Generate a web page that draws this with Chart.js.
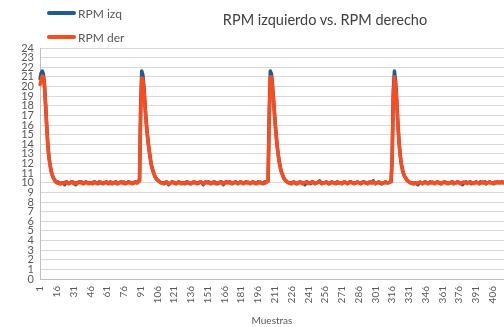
<!DOCTYPE html>
<html>
<head>
<meta charset="utf-8">
<script src="https://cdn.jsdelivr.net/npm/chart.js@4/dist/chart.umd.min.js"></script>
<style>
  body { margin: 0; background: #fff; }
  #wrap { position: relative; width: 504px; height: 327px; font-family: Lato, sans-serif; }
  #titulo { position: absolute; left: 185px; width: 280px; top: 11px; text-align: center; font-size: 14.5px; color: #404040; }
  .ley { position: absolute; left: 47px; height: 16px; font-size: 12px; color: #595959; display: flex; align-items: center; }
  .linea { display: inline-block; width: 29px; height: 4px; margin-right: 2px; border-radius: 2px; }
</style>
</head>
<body>
<div id="wrap">
  <canvas id="myChart" width="504" height="327"></canvas>
  <div id="titulo">RPM izquierdo vs. RPM derecho</div>
  <div class="ley" style="top:5px"><span class="linea" style="background:#1F5A96"></span>RPM izq</div>
  <div class="ley" style="top:29px"><span class="linea" style="background:#FF4A1A"></span>RPM der</div>
</div>
<script>
const rpmIzq = [
  20.8,21.4,21.6,21.3,20.3,18.2,16.0,14.0,12.7,11.9,11.2,10.8,10.5,10.3,10.1,10.0,
  10.1,10.0,9.9,9.9,10.0,10.0,9.8,10.0,10.1,10.0,
  9.9,10.0,10.1,10.1,10.0,9.9,9.8,10.0,10.0,10.1,
  10.0,10.1,10.0,9.9,10.0,10.1,10.0,10.0,9.9,10.0,
  10.0,9.9,10.0,10.1,10.0,10.0,9.9,10.1,10.0,10.0,
  9.9,10.0,10.0,10.1,10.0,9.9,10.0,10.1,9.9,10.0,
  10.0,10.0,10.1,9.9,10.0,10.0,10.0,10.1,10.0,10.0,
  9.9,10.0,10.0,10.1,10.0,10.0,10.0,9.9,10.0,10.1,
  10.0,10.0,10.2,
  10.2,17.8,21.6,21.2,19.9,18.0,16.4,15.1,14.0,13.1,12.3,11.7,11.3,10.9,10.6,10.4,10.3,10.2,10.1,10.0,
  10.0,10.0,9.9,10.0,10.1,10.0,9.8,9.9,10.0,10.1,
  10.0,10.0,9.9,9.9,10.0,10.1,10.0,10.0,9.9,10.0,
  10.0,9.9,10.1,10.0,10.0,9.9,9.9,10.0,10.0,10.1,
  10.0,10.0,9.9,10.0,10.0,10.1,10.0,9.8,10.0,10.1,
  10.0,10.0,10.1,10.0,9.9,10.0,10.0,10.1,10.0,9.9,
  9.9,10.0,10.0,10.1,10.0,9.8,10.0,10.0,10.1,10.0,
  10.0,10.1,10.0,9.9,10.0,10.0,10.1,10.0,9.9,10.0,
  10.1,10.0,10.0,9.9,10.0,10.1,10.0,10.0,10.0,9.9,
  10.0,10.1,10.0,10.0,9.9,10.0,10.1,10.0,10.0,10.0,
  9.9,10.0,10.1,10.0,10.1,
  10.2,17.2,21.6,21.3,20.1,18.5,16.8,15.3,14.0,13.0,12.2,11.6,11.1,10.8,10.5,10.3,10.2,10.1,10.0,
  10.0,10.0,9.9,10.0,10.1,10.0,9.9,9.9,10.0,10.0,
  10.1,10.0,9.9,10.0,9.8,10.0,10.1,10.0,10.0,9.9,
  10.0,10.1,10.0,9.9,10.0,10.0,10.1,10.2,10.0,9.9,
  10.0,10.0,10.0,10.1,10.0,9.9,9.9,10.0,10.1,10.0,
  10.0,10.0,9.9,10.1,10.0,10.0,10.0,9.9,10.0,10.1,
  10.0,10.0,9.9,10.0,10.1,10.1,10.0,10.0,9.9,10.0,
  10.0,10.1,10.0,10.0,9.9,10.0,10.1,10.1,10.0,10.0,
  9.9,10.0,10.1,10.0,10.0,10.2,10.0,9.9,10.0,10.0,
  10.1,10.0,9.9,9.9,10.0,10.0,10.1,10.0,10.0,10.0,
  10.1,
  10.1,12.8,19.6,21.6,20.6,18.8,16.4,14.5,13.1,12.1,11.5,11.0,10.7,10.5,10.3,10.2,10.1,10.0,
  10.0,10.0,9.9,9.9,10.0,9.9,9.8,10.0,10.0,10.0,
  9.9,10.0,10.1,10.0,10.0,9.9,10.0,10.1,10.0,10.0,
  10.0,9.9,10.0,10.1,10.0,10.0,9.9,9.9,10.0,10.0,
  10.1,10.0,10.0,9.9,10.0,10.0,10.0,10.1,9.9,10.0,
  10.0,10.0,10.1,10.0,9.9,10.0,9.8,10.0,10.0,10.1,
  10.0,10.0,10.0,10.1,9.9,10.0,10.0,10.0,10.1,10.0,
  10.0,9.9,10.1,10.0,10.0,10.0,10.1,9.9,10.0,10.0,
  10.1,10.0,10.0,10.0,9.9,10.0,10.0,10.1,10.0,10.0,
  10.0,10.1,10.0,10.0
];

const rpmDer = [
  20.2,20.6,21.1,21.0,20.0,18.0,15.8,13.8,12.6,11.8,11.2,10.8,10.5,10.3,10.1,10.0,
  10.0,9.9,9.9,10.0,10.0,9.9,10.0,10.1,10.0,9.9,
  10.0,10.0,10.1,10.0,9.9,10.0,10.0,9.9,10.0,10.1,
  10.1,10.0,9.9,10.0,10.0,10.1,10.0,9.9,10.0,10.0,
  9.9,10.0,10.1,10.0,10.0,9.9,10.0,10.0,10.1,10.0,
  10.0,9.9,10.0,10.1,10.1,10.0,9.9,10.0,10.0,9.9,
  10.0,10.1,10.0,10.0,9.9,10.0,10.1,10.0,10.0,10.1,
  10.0,9.9,10.0,10.0,10.1,10.0,9.9,10.0,10.0,10.1,
  10.0,10.0,10.1,
  10.2,17.0,20.9,20.8,19.6,17.8,16.2,14.9,13.9,13.0,12.2,11.6,11.2,10.9,10.6,10.4,10.3,10.2,10.1,10.0,
  10.0,9.9,10.0,10.0,10.1,10.0,9.9,9.9,10.0,10.0,
  10.1,10.0,10.0,9.9,10.0,10.1,10.0,9.9,10.0,10.0,
  9.9,10.0,10.0,10.1,10.0,10.0,9.9,10.0,10.1,10.0,
  10.0,9.9,10.0,10.0,10.1,10.1,10.0,9.9,10.0,10.0,
  10.0,10.1,10.0,9.9,10.0,10.0,10.1,10.0,9.9,10.0,
  10.0,10.0,10.1,10.0,9.9,9.9,10.0,10.1,10.0,10.0,
  10.1,10.0,9.9,10.0,10.0,10.1,10.0,10.0,9.9,10.0,
  10.0,10.1,10.0,9.9,10.0,10.0,10.0,10.1,10.0,9.9,
  10.0,10.0,10.1,10.0,10.0,9.9,10.0,10.0,10.1,10.0,
  10.0,9.9,10.0,10.0,10.1,
  10.2,16.5,21.0,21.0,19.8,18.3,16.6,15.1,13.9,12.9,12.1,11.5,11.1,10.8,10.5,10.3,10.2,10.1,10.0,
  10.0,9.9,10.0,10.0,10.1,10.0,10.0,9.9,10.0,10.1,
  10.0,10.0,9.9,10.0,10.0,10.1,10.0,9.9,10.0,10.0,
  10.1,10.0,10.0,9.9,10.0,10.0,10.1,10.1,10.0,9.9,
  10.0,10.0,10.0,10.1,10.0,9.9,10.0,10.0,10.1,10.0,
  10.0,9.9,10.0,10.1,10.0,10.0,10.0,9.9,10.0,10.1,
  10.1,10.0,9.9,10.0,10.0,10.1,10.0,10.0,9.9,10.0,
  10.0,10.1,10.0,10.0,9.9,10.0,10.1,10.0,10.0,10.0,
  9.9,10.0,10.1,10.0,10.0,10.1,10.0,9.9,10.0,10.0,
  10.1,10.0,10.0,9.9,10.0,10.0,10.1,10.0,10.0,10.0,
  10.1,
  10.1,12.5,19.0,21.0,20.2,18.5,16.2,14.3,13.0,12.0,11.4,11.0,10.7,10.5,10.3,10.2,10.1,10.0,
  10.0,9.9,9.9,10.0,10.0,9.9,10.0,10.0,10.1,10.0,
  9.9,10.0,10.0,10.1,10.0,9.9,10.0,10.0,10.0,10.1,
  10.0,9.9,10.0,10.0,10.1,10.0,10.0,9.9,10.0,10.1,
  10.1,10.0,9.9,10.0,10.0,10.0,10.1,10.0,9.9,10.0,
  10.0,10.1,10.0,10.0,9.9,10.0,10.0,10.1,10.0,10.0,
  9.9,10.0,10.1,10.0,10.0,10.0,9.9,10.0,10.1,10.0,
  10.0,9.9,10.0,10.0,10.1,10.0,10.0,9.9,10.0,10.0,
  10.1,10.0,10.0,9.9,10.0,10.1,10.0,10.0,10.0,10.1,
  10.0,10.0,10.1,10.0
];

// numero de muestra (1, 2, 3 ...) y cada cuantas se pone etiqueta
const muestras = rpmIzq.map((v, i) => String(i + 1));
const pasoEtiqueta = 15;
const yMin = 0;
const yMax = 24;

const fuente = { family: "Lato, sans-serif", size: 11 };

const config = {
  type: "line",
  data: {
    labels: muestras,
    datasets: [
      {
        label: "RPM izq",
        data: rpmIzq,
        borderColor: "#1F5A96",
        backgroundColor: "#1F5A96",
        borderWidth: 3.5,
        borderJoinStyle: "round",
        borderCapStyle: "round",
        pointRadius: 0,
        tension: 0,
        order: 1,
      },
      {
        label: "RPM der",
        data: rpmDer,
        borderColor: "#FF4A1A",
        backgroundColor: "#FF4A1A",
        borderWidth: 3.5,
        borderJoinStyle: "round",
        borderCapStyle: "round",
        pointRadius: 0,
        tension: 0,
        order: 0,
      },
    ],
  },
  options: {
    responsive: false,
    animation: false,
    layout: { padding: { top: 48, right: 0, bottom: 0, left: 0 } },
    plugins: {
      legend: { display: false },
      tooltip: { enabled: false },
    },
    scales: {
      x: {
        type: "category",
        grid: { display: true, drawOnChartArea: false, drawTicks: false },
        border: { display: true, color: "#BFBFBF" },
        ticks: {
          autoSkip: false,
          minRotation: 90,
          maxRotation: 90,
          padding: 7,
          color: "#595959",
          font: { family: "Lato, sans-serif", size: 10 },
          callback: function (val, index) {
            return index % pasoEtiqueta === 0 ? this.getLabelForValue(val) : null;
          },
        },
        title: {
          display: true,
          text: "Muestras",
          color: "#595959",
          font: { family: "Lato, sans-serif", size: 10 },
          padding: { top: 0, bottom: 0 },
        },
        afterFit: (scale) => {
          scale.height = 48;
          scale.paddingLeft = 0;
          scale.paddingRight = 0;
        },
      },
      y: {
        min: yMin,
        max: yMax,
        grid: { color: "#D9D9D9", drawTicks: false },
        border: { display: true, color: "#BFBFBF" },
        ticks: {
          stepSize: 1,
          autoSkip: false,
          padding: 6,
          color: "#595959",
          font: fuente,
        },
        afterFit: (scale) => {
          scale.width = 40;
        },
      },
    },
  },
};

const myChart = new Chart(document.getElementById("myChart"), config);
</script>
</body>
</html>
